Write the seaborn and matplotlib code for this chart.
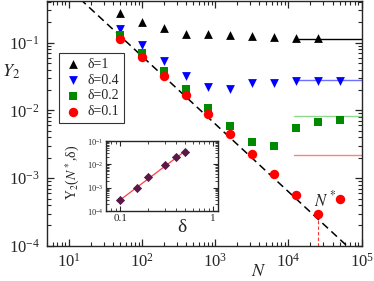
import numpy as np
import pandas as pd
import matplotlib
matplotlib.use("Agg")
import matplotlib.pyplot as plt
import seaborn as sns
from matplotlib.ticker import LogLocator, NullFormatter

# ------------------------- ДАНІ -------------------------

N_VALUES = [50, 100, 200, 400, 800, 1600, 3200, 6400, 12800, 25600, 51200]

Y_D1 = [0.278, 0.205, 0.163, 0.136, 0.133, 0.129, 0.125, 0.122, 0.117, 0.116]
Y_D04 = [0.158, 0.092, 0.054, 0.032, 0.022, 0.0204, 0.0255, 0.0255, 0.0268, 0.0274, 0.0274]
Y_D02 = [0.13, 0.071, 0.0385, 0.021, 0.011, 0.0059, 0.0034, 0.0030, 0.0055, 0.0068, 0.0073]
Y_D01 = [0.115, 0.061, 0.032, 0.017, 0.0087, 0.0045, 0.00228, 0.00115, 0.00056, 0.000295, 0.0005]

# асимптоти (горизонтальні лінії)
PLATEAU_START = 1.2e4
PLATEAU_END = 1e5
PLATEAU = {"d1": 0.112, "d04": 0.0279, "d02": 0.00815, "d01": 0.00222}

# пунктир ~ 1/N
GUIDE_N = [10, 1e5]
GUIDE_Y = [0.63, 6.3e-5]

# N*
N_STAR = 25600
N_STAR_Y = 2.4e-4

# вставка
INSET_DELTA = [0.1, 0.15, 0.2, 0.3, 0.4, 0.5]
INSET_Y = [3.06e-4, 9.7e-4, 2.95e-3, 9.7e-3, 0.020, 0.035]
FIT_DELTA = [0.1, 0.5]
FIT_Y = [3.0e-4, 0.0375]

SERIES = [
    ("δ=1", Y_D1, "^", "black", "d1", "black", 40),
    ("δ=0.4", Y_D04, "v", "#0000ff", "d04", "#7070ff", 40),
    ("δ=0.2", Y_D02, "s", "#008a00", "d02", "#90d890", 32),
    ("δ=0.1", Y_D01, "o", "#ff0000", "d01", "#ff8080", 46),
]

# ------------------------- СТИЛЬ -------------------------

sns.set_style("ticks")
plt.rcParams["font.family"] = ["Liberation Serif", "DejaVu Serif"]
plt.rcParams["mathtext.fontset"] = "stix"
plt.rcParams["axes.linewidth"] = 1.0

fig = plt.figure(figsize=(3.74, 2.81), dpi=100)
ax = fig.add_axes([0.125, 0.125, 0.842, 0.871])

for label, vals, marker, color, key, lcolor, size in SERIES:
    df = pd.DataFrame({"N": N_VALUES[:len(vals)], "Y": vals})
    sns.scatterplot(data=df, x="N", y="Y", marker=marker, color=color,
                    s=size, linewidth=0, label=label, ax=ax, zorder=3)
    sns.lineplot(x=[PLATEAU_START, PLATEAU_END], y=[PLATEAU[key]] * 2,
                 color=lcolor, lw=1.0, ax=ax, legend=False, zorder=2)

ax.plot(GUIDE_N, GUIDE_Y, color="black", lw=1.1, ls=(0, (5, 3)), zorder=2)
ax.plot([N_STAR, N_STAR], [1e-4, N_STAR_Y], color="#ff3030", lw=0.8,
        ls=(0, (3, 2)), zorder=2)
ax.text(2.25e4, 3.8e-4, r"$N^*$", fontsize=12, ha="left", va="baseline")

ax.set_xscale("log")
ax.set_yscale("log")
ax.set_xlim(5, 1e5)
ax.set_ylim(1e-4, 0.41)

ax.xaxis.set_minor_locator(LogLocator(base=10, subs=np.arange(2, 10), numticks=100))
ax.yaxis.set_minor_locator(LogLocator(base=10, subs=np.arange(2, 10), numticks=100))
ax.xaxis.set_minor_formatter(NullFormatter())
ax.yaxis.set_minor_formatter(NullFormatter())
ax.tick_params(which="both", direction="in", top=True, right=True, labelsize=12)
ax.tick_params(which="major", length=5, width=0.9, pad=5)
ax.tick_params(which="minor", length=3, width=0.8)

ax.set_xlabel(r"$N$", fontsize=13, va="center")
ax.xaxis.set_label_coords(0.674, -0.106)
ax.set_ylabel(r"$Y_2$", fontsize=13, rotation=0, ha="center", va="center")
ax.yaxis.set_label_coords(-0.115, 0.71)

leg = ax.legend(loc="upper left", bbox_to_anchor=(0.039, 0.788), borderaxespad=0,
                frameon=True, fancybox=False, edgecolor="black", fontsize=10,
                handletextpad=0.4, handlelength=1.3, labelspacing=0.2,
                borderpad=0.35)
leg.get_frame().set_linewidth(0.8)

# ------------------------- ВСТАВКА -------------------------

ax2 = fig.add_axes([0.283, 0.249, 0.3, 0.249])
sns.scatterplot(x=INSET_DELTA, y=INSET_Y, marker="D", color="#5a1848", s=22,
                linewidth=0, ax=ax2, zorder=3)
ax2.plot(FIT_DELTA, FIT_Y, color="#ff4040", lw=0.9, zorder=2)
ax2.set_xscale("log")
ax2.set_yscale("log")
ax2.set_xlim(0.07, 1.13)
ax2.set_ylim(1e-4, 1e-1)
ax2.set_xticks([0.1, 1], ["0.1", "1"])
ax2.xaxis.set_minor_locator(LogLocator(base=10, subs=np.arange(2, 10), numticks=100))
ax2.yaxis.set_minor_locator(LogLocator(base=10, subs=np.arange(2, 10), numticks=100))
ax2.xaxis.set_minor_formatter(NullFormatter())
ax2.yaxis.set_minor_formatter(NullFormatter())
ax2.tick_params(which="both", direction="in", top=True, right=True)
ax2.tick_params(which="major", length=3.5, width=0.8, pad=2)
ax2.tick_params(which="minor", length=2, width=0.6)
ax2.tick_params(axis="x", labelsize=8)
ax2.tick_params(axis="y", labelsize=6)
ax2.set_xlabel("δ", fontsize=14, va="top")
ax2.xaxis.set_label_coords(0.676, -0.12)
ax2.set_ylabel(r"Y$_2$($N^*$,δ)", fontsize=10)
ax2.yaxis.set_label_coords(-0.21, 0.557)

fig.savefig("out.png", dpi=100)
